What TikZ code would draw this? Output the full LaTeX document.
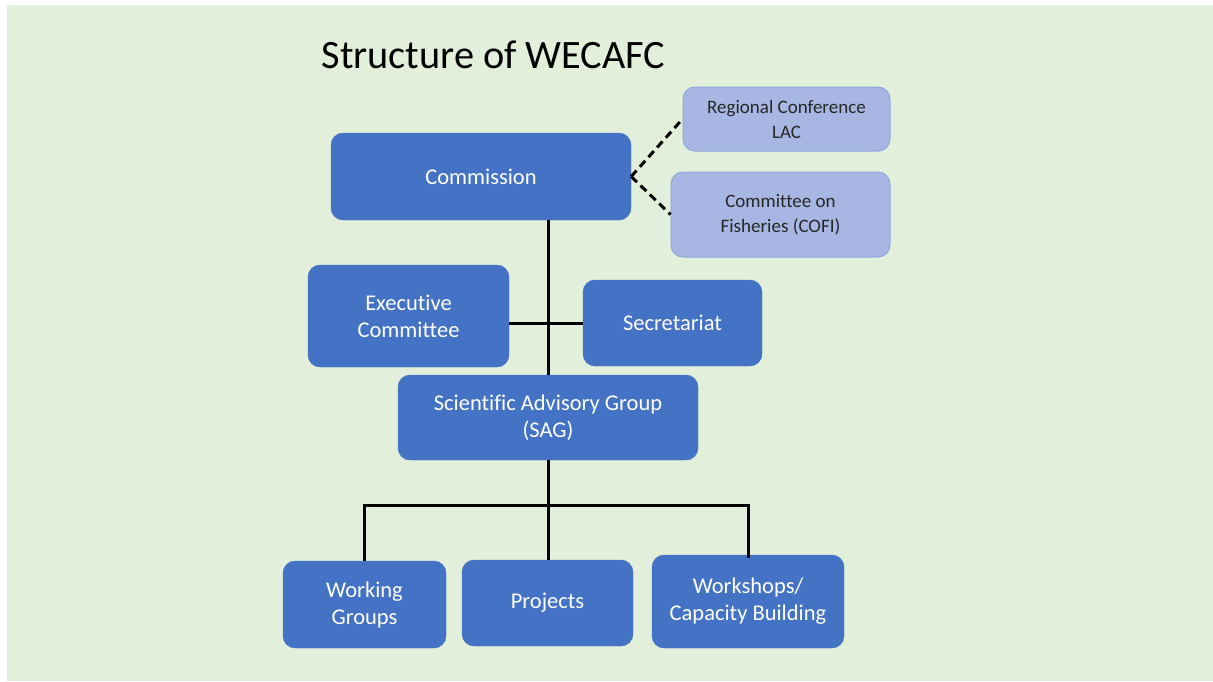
\documentclass[tikz,border=0pt]{standalone}
\usepackage{fontspec}
\setmainfont{Carlito}[Ligatures=NoCommon]
\definecolor{bgGreen}{HTML}{E2EFDA}
\definecolor{boxBlue}{HTML}{4472C4}
\definecolor{paleBlue}{HTML}{A7B6E2}
\definecolor{paleEdge}{HTML}{8EA9DB}
\begin{document}
\begin{tikzpicture}[x=1pt, y=-1pt]
	\tikzstyle{Unit} = [rectangle, rounded corners=12pt, inner sep=0pt, align=center, text=white, fill=boxBlue, draw=boxBlue, font=\fontsize{22.5}{27}\selectfont]
	\tikzstyle{Outer} = [rectangle, rounded corners=12pt, inner sep=0pt, align=center, text=black!85, fill=paleBlue, draw=paleEdge, line width=1pt, font=\fontsize{19}{25}\selectfont]
	\tikzstyle{link} = [line width=3pt, black]
	
	\useasboundingbox (0,0) rectangle (1213,681);
	\fill [bgGreen] (7,5) rectangle (1213,681);
	\node (title) [anchor=base west, font=\fontsize{40.3}{48}\selectfont] at (318,68) {Structure of WECAFC};
	
	\node (comm) [Unit, minimum width=300pt, minimum height=87pt] at (481,176.5) {Commission};
	\node (rlac) [Outer, minimum width=207pt, minimum height=64pt] at (786.5,119) {Regional Conference\\LAC};
	\node (cofi) [Outer, minimum width=219pt, minimum height=85pt] at (780.5,214.5) {Committee on\\Fisheries (COFI)};
	
	\node (exec) [Unit, minimum width=201pt, minimum height=102pt] at (408.5,316) {Executive\\Committee};
	\node (sec) [Unit, minimum width=179pt, minimum height=86pt] at (672.5,323) {Secretariat};
	\node (sag) [Unit, minimum width=300pt, minimum height=85pt] at (548,417.5) {Scientific Advisory Group\\(SAG)};
	
	\node (wg) [Unit, minimum width=163pt, minimum height=87pt] at (364.5,604.5) {Working\\Groups};
	\node (proj) [Unit, minimum width=171pt, minimum height=86pt] at (547.5,603) {Projects};
	\node (ws) [Unit, minimum width=192pt, minimum height=93pt] at (748,601.5) {Workshops/\\Capacity Building};
	
	\draw [link, dash pattern=on 8pt off 5pt] (comm.east) -- (rlac.west);
	\draw [link, dash pattern=on 8pt off 5pt] (comm.east) -- (cofi.west);
	
	\draw [link] (sag.north) -- (sag.north |- comm.south);
	\draw [link] (exec.east |- sec) -- (sec.west);
	
	\coordinate (bus) at (548,505);
	\draw [link] (sag.south) -- (bus);
	\draw [link] (bus) -- (proj.north -| bus);
	\draw [link] (wg.north) -- (wg.north |- bus) -- (ws.north |- bus) -- ([yshift=-3pt]ws.north);
\end{tikzpicture}
\end{document}
